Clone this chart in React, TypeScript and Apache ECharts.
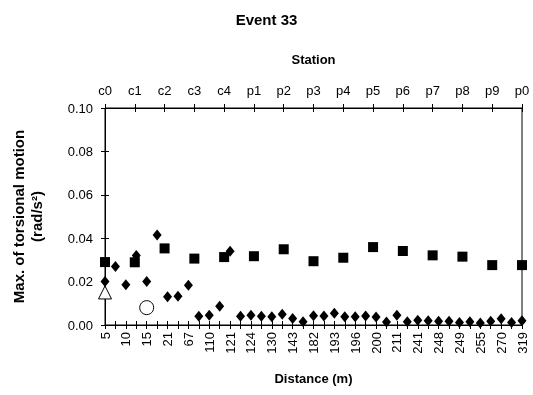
import React, { useEffect, useRef } from "react";
import * as echarts from "echarts";

const distanceLabels = [
  "5", "", "10", "", "15", "", "21", "", "67", "", "110", "", "121", "", "124", "", "130", "", "143", "", "182",
  "", "193", "", "196", "", "200", "", "211", "", "241", "", "248", "", "249", "", "255", "", "270", "", "319",
];
const stationLabels = ["c0", "c1", "c2", "c3", "c4", "p1", "p2", "p3", "p4", "p5", "p6", "p7", "p8", "p9", "p0"];

const diamondValues = [
  0.020, 0.027, 0.0185, 0.032, 0.020, 0.0415, 0.013, 0.0133, 0.0183, 0.004, 0.0045,
  0.0086, 0.034, 0.004, 0.0045, 0.004, 0.0038, 0.0049, 0.003, 0.0015, 0.0043,
  0.0042, 0.0054, 0.0038, 0.0038, 0.0042, 0.0037, 0.0014, 0.0045, 0.0015, 0.0022,
  0.002, 0.0017, 0.0017, 0.0012, 0.0015, 0.0009, 0.0017, 0.0029, 0.0012, 0.002,
];
const squareValues = [
  0.029, 0.0289, 0.0353, 0.0306, 0.0313, 0.0317, 0.0349, 0.0294, 0.031, 0.0359, 0.0341, 0.0321, 0.0315, 0.0276, 0.0276,
];
const triangleIndex = 0;
const triangleValue = 0.015;
const circleIndex = 4;
const circleValue = 0.008;

const FONT = "Liberation Sans, Arial, sans-serif";

export default function App() {
  const ref = useRef<HTMLDivElement>(null);
  useEffect(() => {
    if (!ref.current) return;
    const chart = echarts.init(ref.current, null, { renderer: "svg" });
    const axisLine = { show: true, lineStyle: { color: "#000", width: 1 } };
    const tickStyle = { color: "#000", width: 1 };
    chart.setOption({
      animation: false,
      textStyle: { fontFamily: FONT, color: "#000" },
      title: {
        text: "Event 33",
        left: "center",
        top: 7,
        textStyle: { fontFamily: FONT, fontSize: 15, fontWeight: "bold", color: "#000" },
      },
      grid: {
        left: 105,
        right: 11,
        top: 108,
        bottom: 70,
        show: true,
        borderColor: "#000",
        borderWidth: 1,
        backgroundColor: "transparent",
      },
      xAxis: [
        {
          type: "category",
          position: "bottom",
          data: distanceLabels,
          boundaryGap: false,
          axisLine,
          axisTick: { show: true, interval: 0, length: 4, lineStyle: tickStyle },
          axisLabel: { interval: 1, rotate: 90, fontSize: 13, color: "#000", fontFamily: FONT, margin: 7 },
          splitLine: { show: false },
          name: "Distance (m)",
          nameLocation: "middle",
          nameGap: 47,
          nameTextStyle: { fontSize: 13, fontWeight: "bold", color: "#000", fontFamily: FONT },
        },
        {
          type: "category",
          position: "bottom",
          data: distanceLabels,
          boundaryGap: false,
          axisLine: { show: false },
          axisTick: { show: true, inside: true, interval: 0, length: 4, lineStyle: tickStyle },
          axisLabel: { show: false },
          splitLine: { show: false },
        },
        {
          type: "category",
          position: "top",
          data: stationLabels,
          boundaryGap: false,
          axisLine,
          axisTick: { show: true, interval: 0, length: 4, lineStyle: tickStyle },
          axisLabel: { interval: 0, fontSize: 13, color: "#000", fontFamily: FONT, margin: 11 },
          splitLine: { show: false },
          name: "Station",
          nameLocation: "middle",
          nameGap: 42,
          nameTextStyle: { fontSize: 13, fontWeight: "bold", color: "#000", fontFamily: FONT },
        },
        {
          type: "category",
          position: "top",
          data: stationLabels,
          boundaryGap: false,
          axisLine: { show: false },
          axisTick: { show: true, inside: true, interval: 0, length: 4, lineStyle: tickStyle },
          axisLabel: { show: false },
          splitLine: { show: false },
        },
      ],
      yAxis: [
        {
          type: "value",
          position: "left",
          min: 0,
          max: 0.1,
          interval: 0.02,
          axisLine,
          axisTick: { show: true, length: 4, lineStyle: tickStyle },
          axisLabel: {
            fontSize: 13,
            color: "#000",
            fontFamily: FONT,
            margin: 12,
            formatter: (v: number) => v.toFixed(2),
          },
          splitLine: { show: false },
          name: "Max. of torsional motion\n(rad/s²)",
          nameLocation: "middle",
          nameGap: 60,
          nameTextStyle: { fontSize: 15, fontWeight: "bold", color: "#000", fontFamily: FONT, lineHeight: 18 },
        },
        {
          type: "value",
          position: "left",
          min: 0,
          max: 0.1,
          interval: 0.02,
          axisLine: { show: false },
          axisTick: { show: true, inside: true, length: 4, lineStyle: tickStyle },
          axisLabel: { show: false },
          splitLine: { show: false },
        },
      ],
      series: [
        {
          type: "scatter",
          xAxisIndex: 2,
          yAxisIndex: 0,
          data: squareValues,
          symbol: "rect",
          symbolSize: 10,
          itemStyle: { color: "#000", opacity: 1 },
          z: 3,
        },
        {
          type: "scatter",
          xAxisIndex: 0,
          yAxisIndex: 0,
          data: diamondValues,
          symbol: "diamond",
          symbolSize: [9, 11],
          itemStyle: { color: "#000", opacity: 1 },
          z: 4,
        },
        {
          type: "scatter",
          xAxisIndex: 0,
          yAxisIndex: 0,
          data: [[triangleIndex, triangleValue]],
          symbol: "triangle",
          symbolSize: [13, 13],
          itemStyle: { color: "#fff", borderColor: "#000", borderWidth: 1, opacity: 1 },
          z: 5,
        },
        {
          type: "scatter",
          xAxisIndex: 0,
          yAxisIndex: 0,
          data: [[circleIndex, circleValue]],
          symbol: "circle",
          symbolSize: 14,
          itemStyle: { color: "#fff", borderColor: "#000", borderWidth: 1, opacity: 1 },
          z: 5,
        },
      ],
    });
    return () => chart.dispose();
  }, []);
  return <div ref={ref} style={{ width: 533, height: 395, position: "fixed", left: 0, top: 0 }} />;
}
